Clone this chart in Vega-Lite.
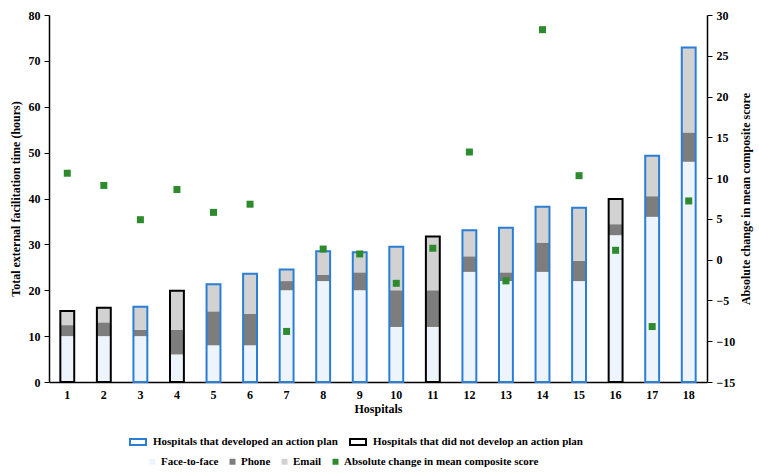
{
  "$schema": "https://vega.github.io/schema/vega-lite/v6.json",
  "width": 658,
  "height": 367,
  "autosize": "none",
  "padding": {"left": 49, "top": 15, "right": 52, "bottom": 92},
  "background": "white",
  "config": {
    "view": {"stroke": null},
    "font": "Liberation Serif",
    "axis": {"labelFont": "Liberation Serif", "labelFontWeight": "bold", "labelFontSize": 12, "labelColor": "black", "titleFont": "Liberation Serif", "titleFontWeight": "bold", "titleFontSize": 12, "titleColor": "black", "domainColor": "black", "tickColor": "black", "grid": false},
    "legend": {"labelFont": "Liberation Serif", "labelFontWeight": "bold", "labelFontSize": 11, "labelColor": "black", "orient": "none", "direction": "horizontal", "padding": 0, "labelLimit": 400}
  },
  "datasets": {
    "segments": [
      {"hospital": 1, "plan": "Hospitals that did not develop an action plan", "type": "Face-to-face", "hours": 10},
      {"hospital": 1, "plan": "Hospitals that did not develop an action plan", "type": "Phone", "hours": 2.4},
      {"hospital": 1, "plan": "Hospitals that did not develop an action plan", "type": "Email", "hours": 3.1},
      {"hospital": 2, "plan": "Hospitals that did not develop an action plan", "type": "Face-to-face", "hours": 10},
      {"hospital": 2, "plan": "Hospitals that did not develop an action plan", "type": "Phone", "hours": 3},
      {"hospital": 2, "plan": "Hospitals that did not develop an action plan", "type": "Email", "hours": 3.2},
      {"hospital": 3, "plan": "Hospitals that developed an action plan", "type": "Face-to-face", "hours": 10},
      {"hospital": 3, "plan": "Hospitals that developed an action plan", "type": "Phone", "hours": 1.4},
      {"hospital": 3, "plan": "Hospitals that developed an action plan", "type": "Email", "hours": 5},
      {"hospital": 4, "plan": "Hospitals that did not develop an action plan", "type": "Face-to-face", "hours": 6},
      {"hospital": 4, "plan": "Hospitals that did not develop an action plan", "type": "Phone", "hours": 5.4},
      {"hospital": 4, "plan": "Hospitals that did not develop an action plan", "type": "Email", "hours": 8.5},
      {"hospital": 5, "plan": "Hospitals that developed an action plan", "type": "Face-to-face", "hours": 8},
      {"hospital": 5, "plan": "Hospitals that developed an action plan", "type": "Phone", "hours": 7.4},
      {"hospital": 5, "plan": "Hospitals that developed an action plan", "type": "Email", "hours": 5.9},
      {"hospital": 6, "plan": "Hospitals that developed an action plan", "type": "Face-to-face", "hours": 8},
      {"hospital": 6, "plan": "Hospitals that developed an action plan", "type": "Phone", "hours": 6.9},
      {"hospital": 6, "plan": "Hospitals that developed an action plan", "type": "Email", "hours": 8.7},
      {"hospital": 7, "plan": "Hospitals that developed an action plan", "type": "Face-to-face", "hours": 20},
      {"hospital": 7, "plan": "Hospitals that developed an action plan", "type": "Phone", "hours": 2},
      {"hospital": 7, "plan": "Hospitals that developed an action plan", "type": "Email", "hours": 2.5},
      {"hospital": 8, "plan": "Hospitals that developed an action plan", "type": "Face-to-face", "hours": 22},
      {"hospital": 8, "plan": "Hospitals that developed an action plan", "type": "Phone", "hours": 1.4},
      {"hospital": 8, "plan": "Hospitals that developed an action plan", "type": "Email", "hours": 5.1},
      {"hospital": 9, "plan": "Hospitals that developed an action plan", "type": "Face-to-face", "hours": 20},
      {"hospital": 9, "plan": "Hospitals that developed an action plan", "type": "Phone", "hours": 3.9},
      {"hospital": 9, "plan": "Hospitals that developed an action plan", "type": "Email", "hours": 4.4},
      {"hospital": 10, "plan": "Hospitals that developed an action plan", "type": "Face-to-face", "hours": 12},
      {"hospital": 10, "plan": "Hospitals that developed an action plan", "type": "Phone", "hours": 8},
      {"hospital": 10, "plan": "Hospitals that developed an action plan", "type": "Email", "hours": 9.5},
      {"hospital": 11, "plan": "Hospitals that did not develop an action plan", "type": "Face-to-face", "hours": 12},
      {"hospital": 11, "plan": "Hospitals that did not develop an action plan", "type": "Phone", "hours": 8},
      {"hospital": 11, "plan": "Hospitals that did not develop an action plan", "type": "Email", "hours": 11.7},
      {"hospital": 12, "plan": "Hospitals that developed an action plan", "type": "Face-to-face", "hours": 24},
      {"hospital": 12, "plan": "Hospitals that developed an action plan", "type": "Phone", "hours": 3.4},
      {"hospital": 12, "plan": "Hospitals that developed an action plan", "type": "Email", "hours": 5.7},
      {"hospital": 13, "plan": "Hospitals that developed an action plan", "type": "Face-to-face", "hours": 22},
      {"hospital": 13, "plan": "Hospitals that developed an action plan", "type": "Phone", "hours": 1.9},
      {"hospital": 13, "plan": "Hospitals that developed an action plan", "type": "Email", "hours": 9.7},
      {"hospital": 14, "plan": "Hospitals that developed an action plan", "type": "Face-to-face", "hours": 24},
      {"hospital": 14, "plan": "Hospitals that developed an action plan", "type": "Phone", "hours": 6.4},
      {"hospital": 14, "plan": "Hospitals that developed an action plan", "type": "Email", "hours": 7.8},
      {"hospital": 15, "plan": "Hospitals that developed an action plan", "type": "Face-to-face", "hours": 22},
      {"hospital": 15, "plan": "Hospitals that developed an action plan", "type": "Phone", "hours": 4.4},
      {"hospital": 15, "plan": "Hospitals that developed an action plan", "type": "Email", "hours": 11.6},
      {"hospital": 16, "plan": "Hospitals that did not develop an action plan", "type": "Face-to-face", "hours": 32},
      {"hospital": 16, "plan": "Hospitals that did not develop an action plan", "type": "Phone", "hours": 2.4},
      {"hospital": 16, "plan": "Hospitals that did not develop an action plan", "type": "Email", "hours": 5.5},
      {"hospital": 17, "plan": "Hospitals that developed an action plan", "type": "Face-to-face", "hours": 36},
      {"hospital": 17, "plan": "Hospitals that developed an action plan", "type": "Phone", "hours": 4.5},
      {"hospital": 17, "plan": "Hospitals that developed an action plan", "type": "Email", "hours": 8.8},
      {"hospital": 18, "plan": "Hospitals that developed an action plan", "type": "Face-to-face", "hours": 48},
      {"hospital": 18, "plan": "Hospitals that developed an action plan", "type": "Phone", "hours": 6.4},
      {"hospital": 18, "plan": "Hospitals that developed an action plan", "type": "Email", "hours": 18.5}
    ],
    "hospitals": [
      {"hospital": 1, "change": 10.6},
      {"hospital": 2, "change": 9.1},
      {"hospital": 3, "change": 4.9},
      {"hospital": 4, "change": 8.6},
      {"hospital": 5, "change": 5.8},
      {"hospital": 6, "change": 6.8},
      {"hospital": 7, "change": -8.8},
      {"hospital": 8, "change": 1.3},
      {"hospital": 9, "change": 0.7},
      {"hospital": 10, "change": -2.9},
      {"hospital": 11, "change": 1.4},
      {"hospital": 12, "change": 13.2},
      {"hospital": 13, "change": -2.6},
      {"hospital": 14, "change": 28.2},
      {"hospital": 15, "change": 10.3},
      {"hospital": 16, "change": 1.15},
      {"hospital": 17, "change": -8.2},
      {"hospital": 18, "change": 7.2}
    ]
  },
  "layer": [
    {
      "data": {"name": "segments"},
      "transform": [{"calculate": "indexof(['Face-to-face', 'Phone', 'Email'], datum.type)", "as": "stackOrder"}],
      "mark": {"type": "bar"},
      "encoding": {
        "x": {"field": "hospital", "type": "ordinal", "scale": {"paddingInner": 0.62, "paddingOuter": 0.31}, "axis": {"title": "Hospitals", "labelAngle": 0, "ticks": false, "labelPadding": 7, "titlePadding": 3, "domainWidth": 1.5}},
        "y": {"field": "hours", "type": "quantitative", "stack": "zero", "scale": {"domain": [0, 80], "nice": false}, "axis": {"title": "Total external facilitation time (hours)", "values": [0, 10, 20, 30, 40, 50, 60, 70, 80], "tickSize": 5, "labelPadding": 4, "titlePadding": 6, "domainWidth": 1.5}},
        "order": {"field": "stackOrder", "type": "quantitative", "sort": "ascending"},
        "fill": {"field": "type", "type": "nominal", "scale": {"domain": ["Face-to-face", "Phone", "Email", "Absolute change in mean composite score"], "range": ["#eef4fb", "#7d7d7d", "#d2d2d2", "#2d8a2d"]}, "legend": {"title": null, "legendX": 98, "legendY": 441, "symbolType": "square", "symbolSize": 36, "symbolStrokeWidth": 0, "columnPadding": 8, "labelOffset": 3}}
      }
    },
    {
      "data": {"name": "segments"},
      "mark": {"type": "bar", "filled": false, "strokeWidth": 2},
      "encoding": {
        "x": {"field": "hospital", "type": "ordinal"},
        "y": {"aggregate": "sum", "field": "hours", "type": "quantitative", "scale": {"domain": [0, 80], "nice": false}, "axis": null},
        "stroke": {"field": "plan", "type": "nominal", "scale": {"domain": ["Hospitals that developed an action plan", "Hospitals that did not develop an action plan"], "range": ["#2b7ed6", "#000000"]}, "legend": {"title": null, "legendX": 80, "legendY": 418, "symbolType": "M-1,-0.375H1V0.375H-1Z", "symbolSize": 256, "symbolStrokeWidth": 2, "symbolFillColor": "white", "columnPadding": 8, "labelOffset": 6}}
      }
    },
    {
      "data": {"name": "hospitals"},
      "mark": {"type": "square", "size": 49, "opacity": 1},
      "encoding": {
        "x": {"field": "hospital", "type": "ordinal"},
        "y": {"field": "change", "type": "quantitative", "scale": {"domain": [-15, 30], "nice": false}, "axis": {"orient": "right", "title": "Absolute change in mean composite score", "titleAngle": 270, "values": [-15, -10, -5, 0, 5, 10, 15, 20, 25, 30], "tickSize": 5, "labelPadding": 4, "titlePadding": 18, "domainWidth": 1.5}},
        "fill": {"datum": "Absolute change in mean composite score"}
      }
    }
  ],
  "resolve": {"scale": {"y": "independent"}}
}
